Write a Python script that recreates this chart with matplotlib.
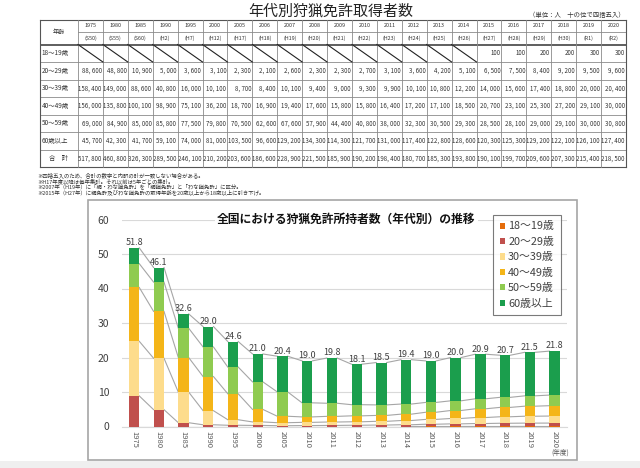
import matplotlib.pyplot as plt
from matplotlib.patches import Rectangle, Patch

plt.rcParams['font.family'] = ['Noto Sans CJK JP', 'DejaVu Sans']

# ---- table data (persons) ----
years = [1975, 1980, 1985, 1990, 1995, 2000, 2005, 2006, 2007, 2008, 2009,
         2010, 2011, 2012, 2013, 2014, 2015, 2016, 2017, 2018, 2019, 2020]
eras = ['(S50)', '(S55)', '(S60)', '(H2)', '(H7)', '(H12)', '(H17)', '(H18)',
        '(H19)', '(H20)', '(H21)', '(H22)', '(H23)', '(H24)', '(H25)', '(H26)',
        '(H27)', '(H28)', '(H29)', '(H30)', '(R1)', '(R2)']
age_18_19 = [None] * 16 + [100, 100, 200, 200, 300, 300]
age_20_29 = [88600, 48800, 10900, 5000, 3600, 3100, 2300, 2100, 2600, 2300, 2300,
             2700, 3100, 3600, 4200, 5100, 6500, 7500, 8400, 9200, 9500, 9600]
age_30_39 = [158400, 149000, 88600, 40800, 16000, 10100, 8700, 8400, 10100, 9400, 9000,
             9300, 9900, 10100, 10800, 12200, 14000, 15600, 17400, 18800, 20000, 20400]
age_40_49 = [156000, 135800, 100100, 98900, 75100, 36200, 18700, 16900, 19400, 17600, 15800,
             15800, 16400, 17200, 17100, 18500, 20700, 23100, 25300, 27200, 29100, 30000]
age_50_59 = [69000, 84900, 85000, 85800, 77500, 79800, 70500, 62600, 67600, 57900, 44400,
             40800, 38000, 32300, 30500, 29300, 28500, 28100, 29000, 29100, 30000, 30800]
age_60 = [45700, 42300, 41700, 59100, 74000, 81000, 103500, 96600, 129200, 134300, 114300,
          121700, 131000, 117400, 122800, 128600, 120300, 125300, 129200, 122100, 126100, 127400]
totals = [517800, 460800, 326300, 289500, 246100, 210200, 203600, 186600, 228900, 221500, 185900,
          190200, 198400, 180700, 185300, 193800, 190100, 199700, 209600, 207300, 215400, 218500]

row_names = ['18～19歳', '20～29歳', '30～39歳', '40～49歳', '50～59歳', '60歳以上', '合　計']
series_names = ['18～19歳', '20～29歳', '30～39歳', '40～49歳', '50～59歳', '60歳以上']
colors = ['#E46C0A', '#C0504D', '#FDDC8C', '#F4B518', '#8FCB50', '#1B9E4D']

# ---- chart data ----
chart_years = [1975, 1980, 1985, 1990, 1995, 2000, 2005, 2010, 2011, 2012,
               2013, 2014, 2015, 2016, 2017, 2018, 2019, 2020]
chart_labels = ['51.8', '46.1', '32.6', '29.0', '24.6', '21.0', '20.4', '19.0', '19.8',
                '18.1', '18.5', '19.4', '19.0', '20.0', '20.9', '20.7', '21.5', '21.8']

notes = ['※四捨五入のため、合計の数字と内訳の計が一致しない場合がある。',
         '※H17年度以降は毎年集計。それ以前は5年ごとの集計。',
         '※2007年（H19年）に「網・わな猟免許」を「網猟免許」と「わな猟免許」に区分。',
         '※2015年（H27年）に網免許及びわな猟免許の取得年齢を20歳以上から18歳以上に引き下げ。']

fig = plt.figure(figsize=(6.4, 4.68), dpi=100)
bg = fig.add_axes([0, 0, 1, 1])
bg.set_xlim(0, 640)
bg.set_ylim(468, 0)
bg.axis('off')

# ---- title / unit ----
bg.text(331, 11.5, '年代別狩猟免許取得者数', ha='center', va='center', fontsize=10.8, color='#222222')
bg.text(625, 15, '（単位：人　十の位で四捨五入）', ha='right', va='center', fontsize=4.6, color='#333333')

# ---- table ----
tx0, tlab, tx1 = 40, 78, 626
cw = (tx1 - tlab) / len(years)
rh = 17.5
hy0, hy1, hy2 = 20, 31.5, 44.5
row_y = [hy2 + rh * i for i in range(8)]
lc = '#8a8a8a'
lw = 0.6
bg.plot([tx0, tx1], [hy0, hy0], color='#555555', lw=0.8)
bg.plot([tlab, tx1], [hy1, hy1], color=lc, lw=lw)
bg.plot([tx0, tx1], [hy2 - 0.8, hy2 - 0.8], color='#444444', lw=0.6)
bg.plot([tx0, tx1], [hy2 + 0.8, hy2 + 0.8], color='#444444', lw=0.6)
for y in row_y[1:]:
    last = y == row_y[-1]
    bg.plot([tx0, tx1], [y, y], color='#555555' if last else lc, lw=0.8 if last else lw)
xs = [tx0, tlab] + [tlab + cw * (j + 1) for j in range(len(years))]
for k, xv in enumerate(xs):
    edge = k in (0, len(xs) - 1)
    bg.plot([xv, xv], [hy0, row_y[-1]], color='#555555' if edge else lc, lw=0.8 if edge else lw)

bg.text((tx0 + tlab) / 2, (hy0 + hy2) / 2, '年齢', ha='center', va='center', fontsize=4.4, color='#333333')
for j, (yr, era) in enumerate(zip(years, eras)):
    cx = tlab + cw * (j + 0.5)
    bg.text(cx, (hy0 + hy1) / 2, str(yr), ha='center', va='center', fontsize=3.9, color='#333333')
    bg.text(cx, (hy1 + hy2) / 2, era, ha='center', va='center', fontsize=3.9, color='#333333')

table_rows = [age_18_19, age_20_29, age_30_39, age_40_49, age_50_59, age_60, totals]
for r, (name, vals) in enumerate(zip(row_names, table_rows)):
    yt, yb = row_y[r], row_y[r + 1]
    ym = (yt + yb) / 2
    if name == '合　計':
        bg.text((tx0 + tlab) / 2, ym, name, ha='center', va='center', fontsize=4.6, color='#333333')
    else:
        bg.text(tx0 + 1.5, ym, name, ha='left', va='center', fontsize=4.6, color='#333333')
    for j, v in enumerate(vals):
        xl = tlab + cw * j
        if v is None:
            bg.plot([xl, xl + cw], [yt, yb], color='#222222', lw=0.8)
        else:
            bg.text(xl + cw - 1.2, ym, f'{v:,}'.replace(',', ', '), ha='right', va='center',
                    fontsize=4.4, color='#333333')

for i, n in enumerate(notes):
    bg.text(37, 175.5 + 5.5 * i, n, ha='left', va='center', fontsize=3.9, color='#333333')

# ---- chart frame and bottom band ----
bg.add_patch(Rectangle((88, 199.5), 489, 260.5, fill=False, ec='#A6A6A6', lw=1.2))
bg.add_patch(Rectangle((0, 461), 640, 7, fc='#EFEFEF', ec='none'))

# ---- stacked bar chart ----
ax = fig.add_axes([121.7 / 640, 1 - 426.5 / 468, (567 - 121.7) / 640, (426.5 - 219.5) / 468])
ax.set_facecolor('none')

idx = [years.index(y) for y in chart_years]
stack = []
for s in [age_18_19, age_20_29, age_30_39, age_40_49, age_50_59, age_60]:
    stack.append([(s[i] or 0) / 10000 for i in idx])

x = list(range(len(chart_years)))
w = 0.42
bottom = [0.0] * len(x)
tops = []
for vals, c, name in zip(stack, colors, series_names):
    ax.bar(x, vals, w, bottom=bottom, color=c, zorder=3, label=name)
    bottom = [b + v for b, v in zip(bottom, vals)]
    tops.append(bottom)

# series lines between the bars
for cum in tops:
    for i in range(len(x) - 1):
        ax.plot([x[i] + w / 2, x[i + 1] - w / 2], [cum[i], cum[i + 1]],
                color='#A6A6A6', lw=0.8, zorder=2)

for i, lab in enumerate(chart_labels):
    ax.text(x[i], tops[-1][i] + 0.2, lab, ha='center', va='bottom', fontsize=6.5,
            color='#404040', zorder=4)

ax.set_xlim(-0.5, len(x) - 0.5)
ax.set_ylim(0, 60)
ax.set_yticks([0, 10, 20, 30, 40, 50, 60])
ax.set_xticks(x)
ax.set_xticklabels([str(y) for y in chart_years], rotation=270)
ax.yaxis.grid(True, color='#D9D9D9', lw=0.8)
ax.set_axisbelow(True)
for sp in ['top', 'left', 'right']:
    ax.spines[sp].set_visible(False)
ax.spines['bottom'].set_color('#D9D9D9')
ax.tick_params(axis='y', length=0, labelsize=7.5, labelcolor='#404040', pad=9)
ax.tick_params(axis='x', length=0, labelsize=5.5, labelcolor='#595959', pad=3)

ax.text(0.504, 1.0, '全国における狩猟免許所持者数（年代別）の推移', transform=ax.transAxes,
        ha='center', va='center', fontsize=8.5, fontweight='bold', color='#111111',
        bbox=dict(fc='white', ec='none', pad=1.5), zorder=5)

handles = [Patch(fc=c, ec='none') for c in colors]
leg = ax.legend(handles, series_names, loc='upper left', bbox_to_anchor=(493 / 640, 1 - 215 / 468),
                bbox_transform=fig.transFigure, frameon=True, fancybox=False, fontsize=7.8,
                handlelength=0.5, handleheight=0.5, handletextpad=0.3, labelspacing=0.5,
                borderpad=0.6, borderaxespad=0, labelcolor='#404040')
leg.get_frame().set_edgecolor('#595959')
leg.get_frame().set_linewidth(0.8)

bg.text(560, 453, '(年度)', ha='center', va='center', fontsize=4.8, color='#595959')

fig.savefig('out.png', dpi=100)
